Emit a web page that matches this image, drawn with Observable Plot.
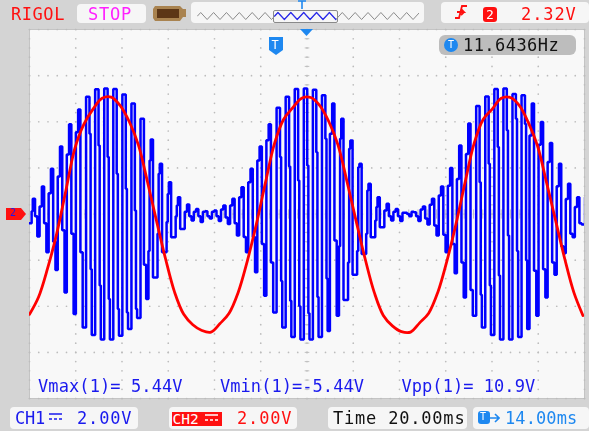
<!DOCTYPE html>
<html><head><meta charset="utf-8">
<script src="https://cdn.jsdelivr.net/npm/d3@7"></script>
<script src="https://cdn.jsdelivr.net/npm/@observablehq/plot@0.6"></script>
<style>
html,body{margin:0;padding:0;background:#d4d4d4;width:589px;height:431px;overflow:hidden}
#root{position:relative;width:589px;height:431px;filter:blur(0.55px);font-family:"DejaVu Sans Mono",monospace}
.box{position:absolute;background:#f6f6f6;border-radius:4px}
.t{position:absolute;white-space:pre;font-size:17px;line-height:20px}
svg{display:block}
#scope,#over{position:absolute}
</style></head><body><div id="root"></div>
<script>
// Channel 1: one row per carrier cycle, volts
const topPeak=[.66,1.19,1.96,2.93,3.89,4.53,5.08,5.41,5.44,5.42,
5.18,4.79,4.13,3.23,2.18,1.38,.73,.41,.22,.12,
.15,.37,.66,1.16,1.96,2.93,3.89,4.61,5.08,5.42,
5.44,5.39,5.15,4.79,4.13,3.19,2.18,1.31,.73,.44,
.22,.05,.08,.32,.66,1.19,2.0,2.97,3.92,4.68,
5.1,5.42,5.44,5.2,5.15,4.79,3.99,3.08,2.18,1.31,.73];
const bottomPeak=[-.98,-1.66,-2.43,-3.4,-4.34,-4.92,-5.25,-5.44,-5.44,-5.28,
-4.99,-4.51,-3.69,-2.75,-1.66,-1.01,-.65,-.28,-.35,-.2,
-.3,-.43,-.93,-1.66,-2.53,-3.54,-4.27,-4.92,-5.33,-5.44,
-5.44,-5.33,-5.07,-4.41,-3.73,-2.63,-1.73,-1.01,-.57,-.28,
-.3,-.1,-.3,-.46,-.93,-1.66,-2.57,-3.62,-4.41,-4.92,
-5.25,-5.44,-5.44,-5.33,-4.99,-4.41,-3.62,-2.63,-1.7,-1.01,-.46];
const leftTop=[.12,.32,.9,1.63,2.58,3.55,null,null,null,null,
null,null,null,2.32,1.74,.87,.37,.1,.1,.1,
.1,.2,.37,.73,1.38,2.32,3.2,null,null,null,
null,null,null,3.48,3.26,2.83,2.03,1.02,.3,.15,
.1,.05,.1,.2,.4,.8,1.23,1.52,2.6,null,
null,null,null,null,null,3.4,3.0,2.25,1.2,.65,.3];
const rightTop=[null,null,null,null,null,null,3.48,2.97,2.47,1.74,
1.09,.15,null,null,null,null,null,null,null,null,
null,null,null,null,null,null,null,2.47,2.06,1.45,
2.1,2.68,3.26,null,null,null,null,null,null,null,
null,null,null,null,null,null,null,null,null,1.38,
2.18,2.9,3.63,4.13,3.9,null,null,null,null,null,null];
const leftBottom=[-.1,-.4,-1.2,-.7,-.86,-1.66,-2.4,-3.1,-3.69,-4.12,
-4.27,-4.12,-2.2,null,null,null,null,-.1,-.1,-.1,
-.1,-.15,-.4,-1.0,-1.0,-1.3,-2.1,-2.9,-3.76,-4.0,
-4.3,-3.6,-2.8,-1.15,null,null,null,null,null,-.1,
-.1,0,-.1,-.2,-.5,-.9,-1.3,-2.1,-3.3,-3.5,
-3.1,-2.67,-.93,-1.6,-2.0,-2.46,-2.4,-2.1,-1.4,-.86,-.4];
const rightBottom=[null,null,null,null,null,null,null,null,null,null,
null,null,-1.6,-.86,-.35,-.1,null,null,null,null,
null,null,null,null,null,null,null,null,null,null,
null,null,null,-1.4,-2.1,-1.6,-.86,-.28,null,null,
null,null,null,null,null,null,null,null,null,null,
null,null,null,null,null,null,null,null,null,null,null];
const ch1Start=[-.4,-.4,-.4,.12];
// Channel 2: volts, one value per carrier cycle
const ch2Volts=[-4.35,-3.6,-2.35,-.85,1.0,2.85,3.9,4.55,5.02,5.07,4.7,4.0,3.0,1.4,-.3,-1.95,-3.4,-4.35,-4.8,-5.05,-5.12,-4.75,
-4.3,-3.4,-2.05,-.45,1.35,3.05,4.1,4.6,5.02,5.05,4.7,4.0,3.0,1.4,-.3,-1.95,-3.4,-4.4,-4.85,-5.1,-5.12,-4.72,
-4.3,-3.4,-2.05,-.45,1.35,3.05,4.1,4.55,5.02,5.05,4.7,3.95,2.95,1.35,-.3,-1.95,-3.4,-4.4];
// Overview strip of the memory bar
const overview=[0,1,0,-1,0,1,0,-1,0,1,0,-1,0,1,0,-1,0,1,0,-1,0,1,0,-1,0,1,0,-1,0,1,0,-1,0,1,0,-1,0,1,0,-1,0,1,0,-1,0,1,0,-1,0,1,0,-1,0,1,0,-1,0,1,0,-1,0,1,0,-1,0,1,0,-1,0,1];
const labels={rigol:"RIGOL",run:"STOP",trig:"2.32V",freq:"11.6436Hz",vmax:"Vmax(1)= 5.44V",vmin:"Vmin(1)=-5.44V",vpp:"Vpp(1)= 10.9V",ch1:"CH1",ch1v:"2.00V",ch2:"CH2",ch2v:"2.00V",time:"Time 20.00ms",delay:"14.00ms"};

const ch1=[...ch1Start];
topPeak.forEach((a,c)=>{
  const d=bottomPeak[c];
  const nextTop=c<60?topPeak[c+1]:a;
  const lb=leftBottom[c]??d;
  const rt=rightTop[c]??lb;
  const lt=c<60?(leftTop[c+1]??nextTop):nextTop;
  const rb=rightBottom[c]??(c<60&&leftTop[c+1]!=null?leftTop[c+1]:d);
  ch1.push(a,a,rt,lb,d,d,rb,lt);
});
const sub=0.4904, t0=-120.3;
const ch1Data=ch1.map((v,i)=>({t:t0+sub*i,v}));
const ch2Data=ch2Volts.map((v,i)=>({t:-120+sub*8*i,v}));

const gridDots=[];
for(const t of d3.range(-120,121,20)) for(const v of d3.range(-8,8.01,0.4)) gridDots.push({t,v});
for(const v of d3.range(-8,9,2)) for(const t of d3.range(-120,121,4)) gridDots.push({t,v});
const crossV=d3.range(-8,8.01,0.4).map(v=>({v}));
const crossH=d3.range(-120,121,4).map(t=>({t}));

const scope=Plot.plot({width:589,height:431,marginLeft:29,marginRight:5,marginTop:29,marginBottom:33,
  x:{domain:[-120,120],axis:null},y:{domain:[-8,8],axis:null},
  style:{background:"transparent"},
  marks:[
    Plot.frame({fill:"#f8f8f8",stroke:"#c4c4c4",strokeWidth:1}),
    Plot.dot(gridDots,{x:"t",y:"v",r:0.85,fill:"#bcbcbc"}),
    Plot.link(crossV,{x1:-1,x2:1,y1:"v",y2:"v",stroke:"#c0c0c0",strokeWidth:1}),
    Plot.link(crossH,{x1:"t",x2:"t",y1:-.2,y2:.2,stroke:"#c0c0c0",strokeWidth:1}),
    Plot.line(ch1Data,{x:"t",y:"v",stroke:"#0000ff",strokeWidth:2.5,curve:"step",clip:true,strokeLinejoin:"miter"}),
    Plot.line(ch2Data,{x:"t",y:"v",stroke:"#ff0000",strokeWidth:2.8,curve:"catmull-rom",clip:true})
  ]});
scope.id="scope"; scope.style.left="0";scope.style.top="0";
const root=document.getElementById("root");
root.appendChild(scope);

function box(l,t,w,h,bg,r){const e=document.createElement("div");e.className="box";
  e.style.cssText+=`left:${l}px;top:${t}px;width:${w}px;height:${h}px;`+(bg?`background:${bg};`:"")+(r!=null?`border-radius:${r}px;`:"");root.appendChild(e);return e;}
function txt(s,l,cy,color,size,w){const e=document.createElement("div");e.className="t";e.textContent=s;
  e.style.left=l+"px";e.style.top=(cy-10)+"px";e.style.color=color;if(size)e.style.fontSize=size+"px";
  if(w){e.style.letterSpacing=w+"px";}root.appendChild(e);return e;}
function icon(html,l,t,w,h){const e=document.createElement("div");e.style.cssText=`position:absolute;left:${l}px;top:${t}px;width:${w}px;height:${h}px`;
  e.innerHTML=`<svg width="${w}" height="${h}" viewBox="0 0 ${w} ${h}">${html}</svg>`;root.appendChild(e);}

const BLUE="#1a1aee",SKY="#1e88f0",RED="#ff1010";
// header
txt(labels.rigol,11,14,RED,17,.55);
box(77,4,69,19);
txt(labels.run,88,14,"#ff20ff",17,.8);
icon(`<path d="M2 0H27L30 3H33V11H30L27 15H2L0 12V3Z" fill="#a98350"/><rect x="4" y="3" width="22" height="9" fill="#5c3616"/>`,153,6,34,15);
box(191,2,233,21);
box(273,10,63,11,"#f6f6f6",2).style.border="1px solid #8a8a8a";
const lineData=overview.map((v,i)=>({i,v}));
const over=Plot.plot({width:222,height:21,margin:0,marginTop:0,
  x:{domain:[0,69],axis:null},y:{domain:[-3,3],axis:null},style:{background:"transparent"},
  marks:[
    Plot.line(lineData,{x:"i",y:"v",stroke:"#8a8a8a",strokeWidth:1}),
    Plot.line(lineData.filter(d=>d.i>=24&&d.i<=43),{x:"i",y:"v",stroke:"#2a2aee",strokeWidth:1.2})
  ]});
over.id="over";over.style.left="197px";over.style.top="5px";root.appendChild(over);
icon(`<path d="M0 1H8M4 1V9" stroke="${SKY}" stroke-width="1.6" fill="none"/>`,298,0,8,10);
box(441,2,148,21);
icon(`<path d="M3 14H7L10 2H15M5 8H12L9 5M12 8L9 11" stroke="${RED}" stroke-width="1.8" fill="none"/>`,452,4,16,16);
box(483,7,14,15,RED,3);
txt("2",486,14.5,"#fff",13);
txt(labels.trig,521,14,RED,17,.9);
// trigger markers
icon(`<path d="M0 0H14V13L7 18L0 13Z" fill="${SKY}"/>`,268.5,37,14,18);
txt("T",271.5,45,"#fff",12);
icon(`<path d="M0 0H13L6.5 7Z" fill="${SKY}"/>`,300,29,13,7);
box(439,35,137,20,"#bdbdbd",6);
box(444,38,14,14,SKY,7);
txt("T",448,44.5,"#fff",10);
txt(labels.freq,463,45,"#111",17,.45);
// channel marker
icon(`<path d="M0 0H15L20 6L15 12H0Z" fill="${RED}"/>`,6,207.5,20,12);
txt("2",10,213,BLUE,10);
// measurements
txt(labels.vmax,38,386,BLUE,17,.1);
txt(labels.vmin,220,386,BLUE,17,.05);
txt(labels.vpp,401.5,386,BLUE,17,.05);
// footer
box(10,407,128,22);
txt(labels.ch1,15,417.5,BLUE,17,-.2);
icon(`<path d="M0 1H13M0 6H3M5 6H8M10 6H13" stroke="${BLUE}" stroke-width="1.4" fill="none"/>`,49,413,13,8);
txt(labels.ch1v,77,417.5,BLUE,17,.85);
box(169,407,128,22);
box(172,412,50,14,RED,0);
txt(labels.ch2,172.5,418.5,"#fff",14.5,0);
icon(`<path d="M0 1H13M0 6H3M5 6H8M10 6H13" stroke="#fff" stroke-width="1.4" fill="none"/>`,205,414,13,8);
txt(labels.ch2v,237,417.5,RED,17,.85);
box(328,407,139,22);
txt(labels.time,333,417.5,"#111",17,.8);
box(473,407,116,22);
box(478,411,12,13,SKY,3);
txt("T",480,417,"#fff",10);
icon(`<path d="M0 5H8M5 1L9 5L5 9" stroke="${SKY}" stroke-width="1.6" fill="none"/>`,490,413,10,10);
txt(labels.delay,505,417.5,SKY,17,.1);
</script></body></html>
